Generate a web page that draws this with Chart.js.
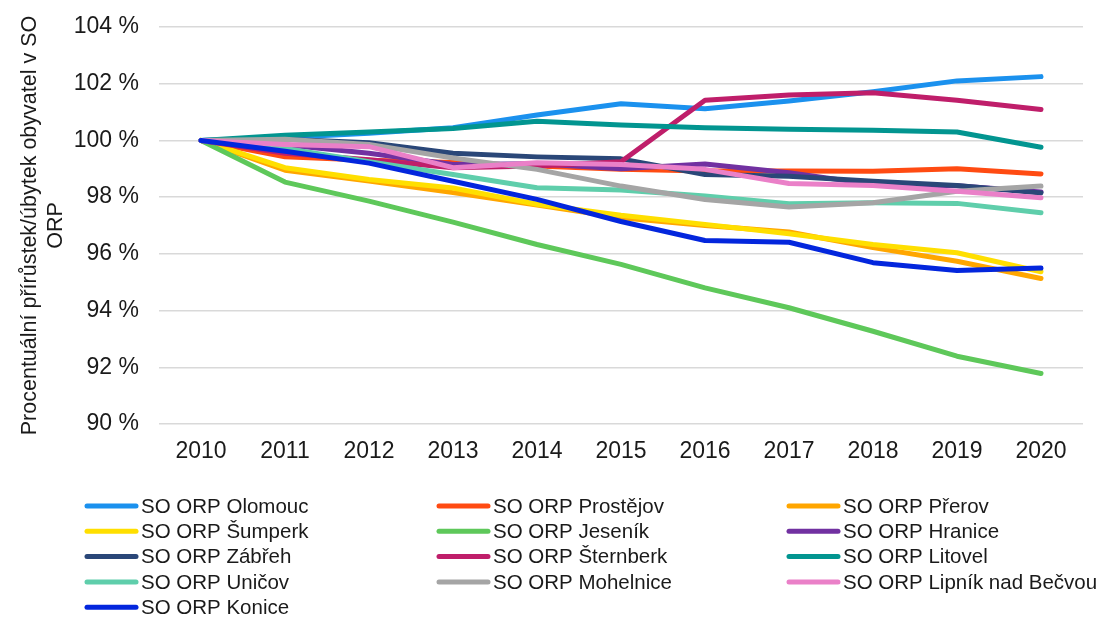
<!DOCTYPE html>
<html lang="cs">
<head>
<meta charset="utf-8">
<title>Vývoj počtu obyvatel SO ORP</title>
<script src="https://cdn.jsdelivr.net/npm/chart.js@4/dist/chart.umd.min.js"></script>
<style>
  html, body { margin: 0; padding: 0; background: #fff; }
  #chart { display: block; }
</style>
</head>
<body>
<canvas id="chart" width="1107" height="619"></canvas>
<script>
// Index of population, 2010 = 100 %
const years = ['2010', '2011', '2012', '2013', '2014', '2015', '2016', '2017', '2018', '2019', '2020'];

const olomouc   = [100, 100.10, 100.25, 100.45, 100.90, 101.29, 101.12, 101.39, 101.72, 102.10, 102.25];
const prostejov = [100, 99.42, 99.30, 99.22, 99.10, 98.98, 98.92, 98.92, 98.91, 99.00, 98.82];
const prerov    = [100, 98.95, 98.57, 98.16, 97.72, 97.27, 97.00, 96.77, 96.22, 95.74, 95.13];
const sumperk   = [100, 99.04, 98.62, 98.32, 97.75, 97.36, 97.04, 96.71, 96.33, 96.04, 95.37];
const jesenik   = [100, 98.53, 97.86, 97.12, 96.33, 95.63, 94.80, 94.10, 93.27, 92.39, 91.78];
const hranice   = [100, 99.85, 99.55, 99.15, 99.18, 99.00, 99.17, 98.86, 98.45, 98.40, 98.18];
const zabreh    = [100, 100.04, 99.92, 99.55, 99.42, 99.35, 98.80, 98.74, 98.56, 98.41, 98.15];
const sternberk = [100, 99.55, 99.32, 99.04, 99.10, 99.25, 101.42, 101.60, 101.68, 101.42, 101.09];
const litovel   = [100, 100.18, 100.30, 100.42, 100.68, 100.54, 100.45, 100.39, 100.36, 100.30, 99.76];
const unicov    = [100, 99.72, 99.25, 98.80, 98.33, 98.25, 98.04, 97.77, 97.80, 97.78, 97.45];
const mohelnice = [100, 100.04, 99.86, 99.38, 98.98, 98.39, 97.92, 97.65, 97.80, 98.21, 98.39];
const lipnik    = [100, 99.86, 99.78, 99.04, 99.21, 99.15, 98.98, 98.48, 98.41, 98.21, 97.98];
const konice    = [100, 99.62, 99.20, 98.56, 97.92, 97.14, 96.47, 96.41, 95.69, 95.41, 95.50];

const yTicks = [90, 92, 94, 96, 98, 100, 102, 104];

const series = [
  { label: 'SO ORP Olomouc',           data: olomouc,   color: '#1b91ee' },
  { label: 'SO ORP Prostějov',         data: prostejov, color: '#ff4b12' },
  { label: 'SO ORP Přerov',            data: prerov,    color: '#ffa600' },
  { label: 'SO ORP Šumperk',           data: sumperk,   color: '#ffdf00' },
  { label: 'SO ORP Jeseník',           data: jesenik,   color: '#5ec85a' },
  { label: 'SO ORP Hranice',           data: hranice,   color: '#7131a1' },
  { label: 'SO ORP Zábřeh',            data: zabreh,    color: '#2a4778' },
  { label: 'SO ORP Šternberk',         data: sternberk, color: '#bf1e6a' },
  { label: 'SO ORP Litovel',           data: litovel,   color: '#029590' },
  { label: 'SO ORP Uničov',            data: unicov,    color: '#5fceab' },
  { label: 'SO ORP Mohelnice',         data: mohelnice, color: '#a5a5a5' },
  { label: 'SO ORP Lipník nad Bečvou', data: lipnik,    color: '#ea80c8' },
  { label: 'SO ORP Konice',            data: konice,    color: '#0326dd' }
];

const FONT = "'Liberation Sans', Arial, sans-serif";

// legend in three columns under the plot
const gridLegend = {
  id: 'gridLegend',
  afterDraw(chart) {
    const ctx = chart.ctx;
    const colX = [85, 437, 787];
    const rowY0 = 506, rowStep = 25.3, lineLen = 53;
    ctx.save();
    ctx.font = '20.5px ' + FONT;
    ctx.textBaseline = 'middle';
    ctx.textAlign = 'left';
    chart.data.datasets.forEach(function(ds, i) {
      const x = colX[i % 3];
      const y = rowY0 + Math.floor(i / 3) * rowStep;
      ctx.strokeStyle = ds.borderColor;
      ctx.lineWidth = 5;
      ctx.lineCap = 'round';
      ctx.beginPath();
      ctx.moveTo(x + 2, y);
      ctx.lineTo(x + lineLen - 2, y);
      ctx.stroke();
      ctx.fillStyle = '#1a1a1a';
      ctx.fillText(ds.label, x + lineLen + 3, y + 1);
    });
    ctx.restore();
  }
};

new Chart(document.getElementById('chart'), {
  type: 'line',
  data: {
    labels: years,
    datasets: series.map(function(s, i) {
      return {
        label: s.label,
        data: s.data,
        borderColor: s.color,
        backgroundColor: s.color,
        borderWidth: 5,
        borderCapStyle: 'round',
        borderJoinStyle: 'round',
        pointRadius: 0,
        tension: 0,
        order: series.length - i
      };
    })
  },
  options: {
    responsive: false,
    animation: false,
    layout: { padding: { left: 0, top: 27, right: 24, bottom: 155 } },
    plugins: { legend: { display: false }, tooltip: { enabled: false } },
    scales: {
      x: {
        offset: true,
        grid: { display: false, drawTicks: false },
        border: { display: false },
        ticks: { color: '#1a1a1a', font: { family: FONT, size: 23 }, padding: 14, maxRotation: 0 },
        afterFit: function(scale) { scale.height = 40; }
      },
      y: {
        min: 90,
        max: 104,
        afterBuildTicks: function(scale) { scale.ticks = yTicks.map(function(v) { return { value: v }; }); },
        grid: { color: '#d9d9d9', lineWidth: 1.5, drawTicks: false },
        border: { display: false },
        ticks: {
          color: '#1a1a1a',
          font: { family: FONT, size: 23 },
          padding: 20,
          callback: function(v) { return v + ' %'; }
        },
        title: {
          display: true,
          text: ['Procentuální přírůstek/úbytek obyvatel v SO', 'ORP'],
          color: '#1a1a1a',
          font: { family: FONT, size: 21.5, lineHeight: 1.2 },
          padding: { top: 17, bottom: 0 }
        },
        afterFit: function(scale) {
          scale.width = 159;
          scale.paddingTop = 0;
          scale.paddingBottom = 0;
        }
      }
    }
  },
  plugins: [gridLegend]
});
</script>
</body>
</html>
